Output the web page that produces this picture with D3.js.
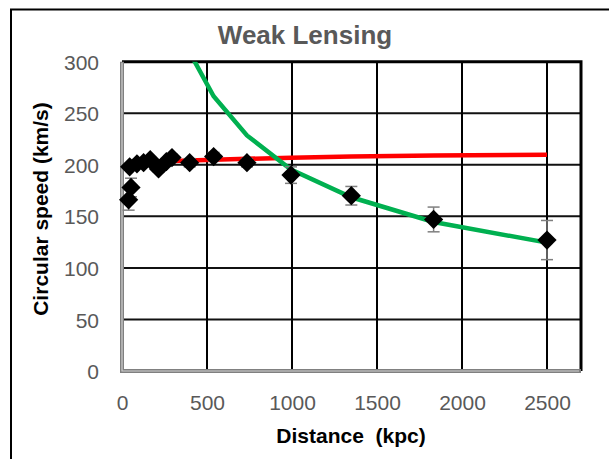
<!DOCTYPE html>
<html>
<head>
<meta charset="utf-8">
<script src="https://cdn.jsdelivr.net/npm/d3@7"></script>
<style>
  html, body { margin: 0; padding: 0; background: #fff; }
  svg { display: block; }
  text { font-family: "Liberation Sans", Arial, sans-serif; }
</style>
</head>
<body>
<svg id="chart" width="609" height="459"></svg>
<script>
// Measured rotation-curve points: distance (kpc), circular speed (km/s), error
const distances = [39, 45, 53, 88, 127, 166, 215, 261, 294, 398, 539, 735, 994, 1349, 1833, 2500];
const speeds    = [166, 198, 178, 201, 202, 205, 196, 203, 207, 202, 208, 202, 190, 170, 147, 127];
const errors    = [10, 3, 9, 3, 3, 3, 3, 3, 3, 4, 4, 4, 8, 9, 12, 19];

// Flat model curve (red)
const flatX = [127, 294, 398, 539, 735, 994, 1349, 1833, 2500];
const flatV = [202.5, 203.6, 204.1, 204.8, 205.8, 206.9, 208.1, 209.0, 209.8];

// Falling model curve (green)
const fallX = [398, 539, 735, 994, 1349, 1833, 2500];
const fallV = [309, 266.5, 228.5, 195.5, 168.5, 144.5, 124.5];

const xTicks = [0, 500, 1000, 1500, 2000, 2500];
const yTicks = [0, 50, 100, 150, 200, 250, 300];

(function () {
  const svg = d3.select("#chart");

  const pLeft = 122, pRight = 581, pTop = 61.7, pBottom = 371;
  const x = d3.scaleLinear().domain([0, 2700]).range([pLeft, pRight]);
  const y = d3.scaleLinear().domain([0, 300]).range([pBottom, pTop]);

  // Outer chart frame
  svg.append("rect")
    .attr("x", 11).attr("y", 9.5)
    .attr("width", 700).attr("height", 600)
    .attr("fill", "#fff").attr("stroke", "#000").attr("stroke-width", 2);

  // Title
  svg.append("text")
    .attr("x", 305).attr("y", 43.5)
    .attr("text-anchor", "middle")
    .attr("font-size", 26).attr("font-weight", "bold")
    .attr("fill", "#595959")
    .text("Weak Lensing");

  // Gridlines
  const grid = svg.append("g");
  grid.selectAll("line.h")
    .data(yTicks.filter(v => v > 0 && v < 300))
    .join("line").attr("class", "h")
    .attr("x1", pLeft).attr("x2", pRight)
    .attr("y1", d => y(d)).attr("y2", d => y(d))
    .attr("stroke", "#111").attr("stroke-width", 2);
  grid.selectAll("line.v")
    .data(xTicks.filter(v => v > 0))
    .join("line").attr("class", "v")
    .attr("y1", pTop).attr("y2", pBottom)
    .attr("x1", d => x(d)).attr("x2", d => x(d))
    .attr("stroke", "#000").attr("stroke-width", 2);

  // Plot frame: black top and right, grey axes at left and bottom
  svg.append("path")
    .attr("d", `M${pLeft},${pTop}H${pRight}V${pBottom}`)
    .attr("fill", "none").attr("stroke", "#000").attr("stroke-width", 3);
  svg.append("path")
    .attr("d", `M${pLeft},${pTop}V${pBottom}H${pRight}`)
    .attr("fill", "none").attr("stroke", "#808080").attr("stroke-width", 4);
  svg.append("path")
    .attr("d", `M${pLeft},${pTop + 1}V${pBottom}H${pRight - 2}`)
    .attr("fill", "none").attr("stroke", "#d0d0d0").attr("stroke-width", 1.2);

  // Tick labels
  const fmt = d3.format("d");
  const yAxis = d3.axisLeft(y).tickValues(yTicks).tickFormat(fmt).tickSize(0).tickPadding(0);
  const gy = svg.append("g").attr("transform", "translate(99,0)").call(yAxis);
  gy.select(".domain").remove();
  gy.selectAll("text")
    .attr("font-family", "'Liberation Sans', Arial, sans-serif")
    .attr("font-size", 21).attr("fill", "#595959")
    .attr("x", 0).attr("dy", "0.36em");

  const xAxis = d3.axisBottom(x).tickValues(xTicks).tickFormat(fmt).tickSize(0).tickPadding(0);
  const gx = svg.append("g").attr("transform", "translate(0,410)").call(xAxis);
  gx.select(".domain").remove();
  gx.selectAll("text")
    .attr("font-family", "'Liberation Sans', Arial, sans-serif")
    .attr("font-size", 21).attr("fill", "#595959")
    .attr("y", 0).attr("dy", 0);

  // Axis titles
  svg.append("text")
    .attr("transform", "translate(48,209) rotate(-90)")
    .attr("text-anchor", "middle")
    .attr("font-size", 21).attr("font-weight", "bold").attr("fill", "#000")
    .text("Circular speed (km/s)");
  svg.append("text")
    .attr("x", 351).attr("y", 443)
    .attr("text-anchor", "middle")
    .attr("font-size", 21).attr("font-weight", "bold").attr("fill", "#000")
    .style("white-space", "pre")
    .text("Distance  (kpc)");

  // Clip for model curves
  svg.append("clipPath").attr("id", "plotClip")
    .append("rect").attr("x", pLeft).attr("y", pTop)
    .attr("width", pRight - pLeft).attr("height", pBottom - pTop);

  const line = d3.line().x(d => x(d[0])).y(d => y(d[1]));

  svg.append("path")
    .datum(flatX.map((d, i) => [d, flatV[i]]))
    .attr("d", line)
    .attr("fill", "none").attr("stroke", "#ff0000").attr("stroke-width", 4.5)
    .attr("clip-path", "url(#plotClip)");

  svg.append("path")
    .datum(fallX.map((d, i) => [d, fallV[i]]))
    .attr("d", line)
    .attr("fill", "none").attr("stroke", "#00b050").attr("stroke-width", 4.5)
    .attr("clip-path", "url(#plotClip)");

  // Data points with error bars
  const pts = distances.map((d, i) => ({ d, v: speeds[i], e: errors[i] }));
  const eb = svg.append("g").attr("stroke", "#7f7f7f").attr("stroke-width", 1.5);
  pts.forEach(p => {
    const cx = x(p.d), y1 = y(p.v + p.e), y2 = y(p.v - p.e);
    eb.append("line").attr("x1", cx).attr("x2", cx).attr("y1", y1).attr("y2", y2);
    eb.append("line").attr("x1", cx - 6).attr("x2", cx + 6).attr("y1", y1).attr("y2", y1);
    eb.append("line").attr("x1", cx - 6).attr("x2", cx + 6).attr("y1", y2).attr("y2", y2);
  });

  svg.append("g").selectAll("path")
    .data(pts)
    .join("path")
    .attr("d", d3.symbol(d3.symbolSquare, 185))
    .attr("transform", p => `translate(${x(p.d)},${y(p.v)}) rotate(45)`)
    .attr("fill", "#000");
})();
</script>
</body>
</html>
